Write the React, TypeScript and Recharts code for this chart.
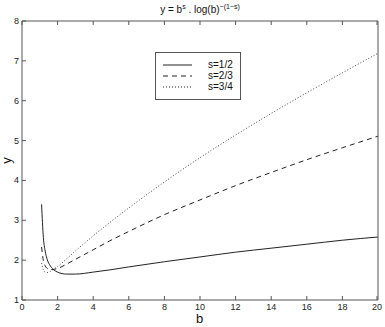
import { LineChart, Line, XAxis, YAxis } from "recharts";

const bValues = [1.1, 1.2, 1.3, 1.4, 1.6, 1.8, 2, 2.5, 3, 4, 5, 6, 8, 10, 12, 14, 16, 18, 20];
const sHalf = [3.4, 2.57, 2.23, 2.04, 1.85, 1.75, 1.7, 1.65, 1.65, 1.7, 1.76, 1.83, 1.96, 2.08, 2.2, 2.3, 2.4, 2.5, 2.58];
const sTwoThirds = [2.33, 1.99, 1.86, 1.8, 1.76, 1.77, 1.79, 1.9, 2.02, 2.26, 2.5, 2.72, 3.14, 3.51, 3.87, 4.2, 4.52, 4.82, 5.11];
const sThreeQuarters = [1.93, 1.76, 1.7, 1.69, 1.72, 1.78, 1.84, 2.03, 2.23, 2.61, 2.97, 3.31, 3.96, 4.57, 5.14, 5.68, 6.2, 6.7, 7.19];
const xTicks = [0, 2, 4, 6, 8, 10, 12, 14, 16, 18, 20];
const yTicks = [1, 2, 3, 4, 5, 6, 7, 8];

const data = bValues.map((b, i) => ({
  b,
  half: sHalf[i],
  twoThirds: sTwoThirds[i],
  threeQuarters: sThreeQuarters[i],
}));

const font = "'Liberation Sans', Arial, sans-serif";
const axisColor = "#555";

// plot box edges (from the chart margins below)
const W = 385;
const H = 327;
const M = { top: 20, right: 6, left: 0, bottom: 0 };
const X_AXIS_H = 27;
const Y_AXIS_W = 22;
const boxTop = M.top + 1;
const boxBottom = H - M.bottom - X_AXIS_H;
const boxLeft = M.left + Y_AXIS_W;
const boxRight = W - M.right - 1;

// ticks point inward, like the original figure
const BottomTick = (props: any) => {
  const { x, payload } = props;
  return (
    <g>
      <line x1={x} x2={x} y1={boxBottom} y2={boxBottom - 4} stroke={axisColor} />
      <text x={x} y={boxBottom + 10} textAnchor="middle" fontSize={9} fill="#222" fontFamily={font}>
        {payload.value}
      </text>
    </g>
  );
};

const LeftTick = (props: any) => {
  const { y, payload } = props;
  return (
    <g>
      <line x1={boxLeft} x2={boxLeft + 4} y1={y} y2={y} stroke={axisColor} />
      <text x={boxLeft - 3} y={y + 3} textAnchor="end" fontSize={9} fill="#222" fontFamily={font}>
        {payload.value}
      </text>
    </g>
  );
};

const TopTick = (props: any) => {
  const { x } = props;
  return <line x1={x} x2={x} y1={boxTop} y2={boxTop + 4} stroke={axisColor} />;
};

const RightTick = (props: any) => {
  const { y } = props;
  return <line x1={boxRight} x2={boxRight - 4} y1={y} y2={y} stroke={axisColor} />;
};

export default function App() {
  return (
    <div style={{ position: "absolute", left: 0, top: 0, width: W, height: H, background: "#fff", fontFamily: font }}>
      <div style={{ position: "absolute", left: 0, width: 400, top: 3, textAlign: "center", fontSize: 10, color: "#111" }}>
        y = b<sup style={{ fontSize: 7 }}>s</sup> . log(b)<sup style={{ fontSize: 7 }}>−(1−s)</sup>
      </div>
      <div style={{ position: "absolute", left: 3, top: 154, fontSize: 13, color: "#111", transform: "rotate(-90deg)", lineHeight: "13px" }}>y</div>
      <div style={{ position: "absolute", left: 196, top: 312, fontSize: 13, color: "#111", lineHeight: "13px" }}>b</div>
      <LineChart width={W} height={H} data={data} margin={M}>
        <XAxis
          dataKey="b"
          type="number"
          domain={[0, 20]}
          ticks={xTicks}
          height={X_AXIS_H}
          axisLine={{ stroke: axisColor }}
          tickLine={false}
          tick={<BottomTick />}
        />
        <XAxis
          xAxisId="top"
          orientation="top"
          dataKey="b"
          type="number"
          domain={[0, 20]}
          ticks={xTicks}
          height={1}
          axisLine={{ stroke: axisColor }}
          tickLine={false}
          tick={<TopTick />}
        />
        <YAxis
          type="number"
          domain={[1, 8]}
          ticks={yTicks}
          width={Y_AXIS_W}
          axisLine={{ stroke: axisColor }}
          tickLine={false}
          tick={<LeftTick />}
        />
        <YAxis
          yAxisId="right"
          orientation="right"
          type="number"
          domain={[1, 8]}
          ticks={yTicks}
          width={1}
          axisLine={{ stroke: axisColor }}
          tickLine={false}
          tick={<RightTick />}
        />
        <Line type="monotone" dataKey="half" stroke="#222" strokeWidth={1} dot={false} isAnimationActive={false} />
        <Line type="monotone" dataKey="twoThirds" stroke="#222" strokeWidth={1} strokeDasharray="5 4" dot={false} isAnimationActive={false} />
        <Line type="monotone" dataKey="threeQuarters" stroke="#444" strokeWidth={1} strokeDasharray="1 2" dot={false} isAnimationActive={false} />
      </LineChart>
      <div style={{ position: "absolute", left: 155, top: 52, width: 84, height: 46, border: "1px solid #555", background: "#fff", fontSize: 10, color: "#111" }}>
        {[
          { label: "s=1/2", dash: "" },
          { label: "s=2/3", dash: "5 4" },
          { label: "s=3/4", dash: "1 2" },
        ].map((item, i) => (
          <div key={item.label} style={{ position: "absolute", left: 7, top: 6 + i * 11, height: 11, display: "flex", alignItems: "center" }}>
            <svg width={30} height={4}>
              <line x1={0} x2={29} y1={2} y2={2} stroke="#222" strokeWidth={1} strokeDasharray={item.dash || undefined} />
            </svg>
            <span style={{ marginLeft: 15 }}>{item.label}</span>
          </div>
        ))}
      </div>
    </div>
  );
}
